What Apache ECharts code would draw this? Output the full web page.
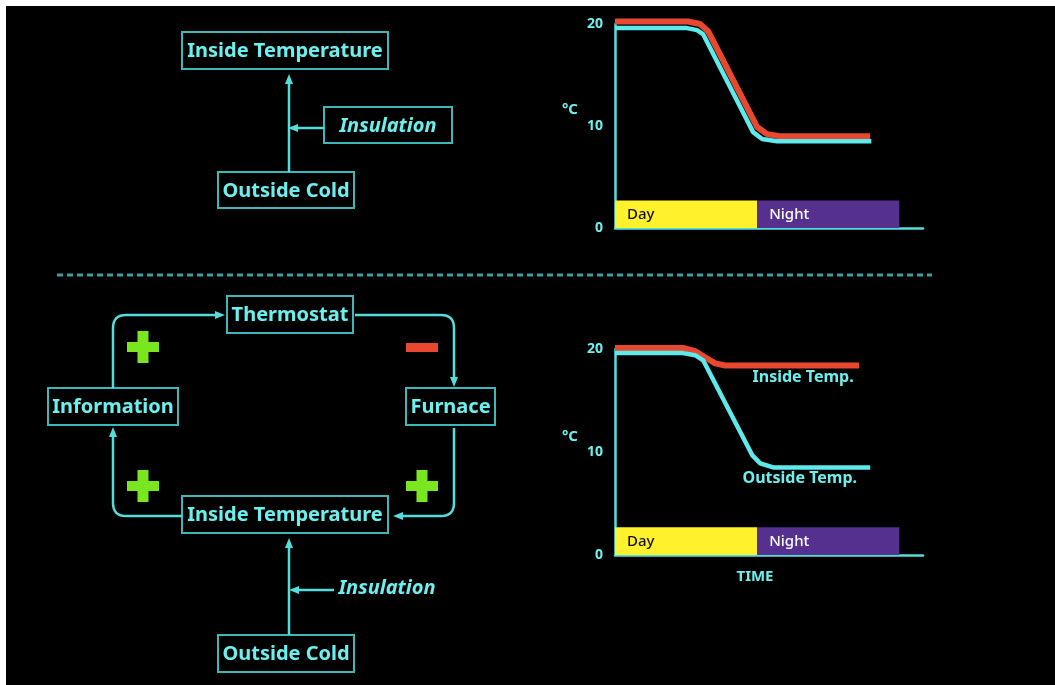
<!DOCTYPE html>
<html>
<head>
<meta charset="utf-8">
<script src="https://cdn.jsdelivr.net/npm/echarts@6/dist/echarts.min.js"></script>
<style>
  html, body { margin: 0; padding: 0; background: #fff; }
  #chart { width: 1055px; height: 685px; }
</style>
</head>
<body>
<div id="chart"></div>
<script>
// time axis (arbitrary units) and temperature ticks
const timeMax = 13
const tempTicks = [0, 10, 20]

// top panel: no heating
const insideNoHeat = [[0, 20.25], [3.08, 20.25], [3.59, 20.0], [3.93, 19.3], [6.0, 9.9], [6.42, 9.2], [6.97, 9.0], [10.77, 9.0]]
const outsideTop = [[0, 19.6], [3.04, 19.6], [3.46, 19.4], [3.72, 19.0], [5.83, 9.4], [6.21, 8.73], [6.84, 8.5], [10.82, 8.5]]

// bottom panel: thermostat on
const insideHeat = [[0, 20.1], [2.87, 20.1], [3.38, 19.8], [3.8, 19.2], [4.23, 18.6], [4.65, 18.4], [10.3, 18.4]]
const outsideBottom = [[0, 19.6], [2.87, 19.6], [3.38, 19.4], [3.72, 18.9], [5.79, 9.7], [6.13, 8.9], [6.68, 8.5], [10.77, 8.5]]

// day / night bands
const periodNames = ['Day', 'Night']
const periodStart = [0, 6]
const periodEnd = [6, 12]
const bandTop = 2.7

const CYAN_TXT = '#6cf0ee'
const CYAN_LINE = '#55dcdc'
const CYAN_BOX = '#3cb8b8'
const RED = '#e8482f'
const GREEN = '#7ae620'
const FONT = '"Noto Sans", "DejaVu Sans", sans-serif'

const chart = echarts.init(document.getElementById('chart'))

function box(x, y, w, h, text, italic) {
    const els = []
    if (w > 0) {
        els.push({
            type: 'rect', shape: { x, y, width: w, height: h },
            style: { fill: 'none', stroke: CYAN_BOX, lineWidth: 2 }
        })
    }
    els.push({
        type: 'text', x: x + w / 2, y: y + h / 2 + 1,
        style: {
            text, fill: CYAN_TXT, fontSize: 20, fontWeight: 'bold', fontFamily: FONT,
            fontStyle: italic ? 'italic' : 'normal',
            textAlign: 'center', textVerticalAlign: 'middle'
        }
    })
    return els
}

// polyline with rounded corners (radius r)
function wire(pts, r) {
    r = r || 13
    const out = [pts[0]]
    for (let i = 1; i < pts.length - 1; i++) {
        const [px, py] = pts[i - 1], [cx, cy] = pts[i], [nx, ny] = pts[i + 1]
        const d1 = Math.hypot(cx - px, cy - py), d2 = Math.hypot(nx - cx, ny - cy)
        const a = [cx - (cx - px) / d1 * r, cy - (cy - py) / d1 * r]
        const b = [cx + (nx - cx) / d2 * r, cy + (ny - cy) / d2 * r]
        for (let k = 0; k <= 8; k++) {
            const t = k / 8
            out.push([
                (1 - t) * (1 - t) * a[0] + 2 * (1 - t) * t * cx + t * t * b[0],
                (1 - t) * (1 - t) * a[1] + 2 * (1 - t) * t * cy + t * t * b[1]
            ])
        }
    }
    out.push(pts[pts.length - 1])
    return { type: 'polyline', shape: { points: out }, style: { fill: null, stroke: CYAN_LINE, lineWidth: 2.5 } }
}

function head(x, y, dir) {
    const L = 10, W = 4
    let pts
    if (dir === 'up') pts = [[x, y], [x - W, y + L], [x + W, y + L]]
    else if (dir === 'down') pts = [[x, y], [x - W, y - L], [x + W, y - L]]
    else if (dir === 'left') pts = [[x, y], [x + L, y - W], [x + L, y + W]]
    else pts = [[x, y], [x - L, y - W], [x - L, y + W]]
    return { type: 'polygon', shape: { points: pts }, style: { fill: CYAN_LINE } }
}

function plus(cx, cy) {
    return [
        { type: 'rect', shape: { x: cx - 16, y: cy - 5, width: 32, height: 10 }, style: { fill: GREEN } },
        { type: 'rect', shape: { x: cx - 5.5, y: cy - 16, width: 11, height: 32 }, style: { fill: GREEN } }
    ]
}

function unitLabel(x, y) {
    return {
        type: 'text', x, y,
        style: { text: '°C', fill: CYAN_TXT, fontSize: 15, fontWeight: 'bold', fontFamily: FONT, textAlign: 'center', textVerticalAlign: 'middle' }
    }
}

const diagram = [].concat(
    // top: open loop
    box(182, 32, 206, 37, 'Inside Temperature'),
    box(324, 107, 128, 36, 'Insulation', true),
    box(218, 172, 136, 36, 'Outside Cold'),
    [wire([[289, 172], [289, 84]]), head(289, 74, 'up'), wire([[324, 128], [298, 128]]), head(288, 128, 'left')],
    // bottom: feedback loop
    box(227, 296, 126, 37, 'Thermostat'),
    box(48, 388, 130, 37, 'Information'),
    box(406, 388, 89, 37, 'Furnace'),
    box(182, 496, 206, 37, 'Inside Temperature'),
    box(218, 635, 136, 37, 'Outside Cold'),
    box(387, 587, 0, 0, 'Insulation', true),
    [
        wire([[113, 388], [113, 315], [215, 315]]), head(225, 315, 'right'),
        wire([[355, 315], [454, 315], [454, 377]]), head(454, 387, 'down'),
        wire([[454, 428], [454, 516], [403, 516]]), head(393, 516, 'left'),
        wire([[182, 516], [113, 516], [113, 437]]), head(113, 427, 'up'),
        wire([[289, 635], [289, 548]]), head(289, 538, 'up'),
        wire([[334, 590], [299, 590]]), head(289, 590, 'left')
    ],
    plus(143, 347), plus(143, 486), plus(422, 486),
    [{ type: 'rect', shape: { x: 406, y: 343, width: 32, height: 9 }, style: { fill: RED } }],
    [{
        type: 'line', shape: { x1: 57, y1: 275, x2: 932, y2: 275 },
        style: { stroke: '#3a9fa0', lineWidth: 3, lineDash: [6, 4] }
    }],
    [unitLabel(570, 110), unitLabel(570, 437)],
    // white page margin
    [
        { type: 'rect', z: 100, shape: { x: 0, y: 0, width: 1055, height: 6 }, style: { fill: '#fff' } },
        { type: 'rect', z: 100, shape: { x: 0, y: 0, width: 6, height: 685 }, style: { fill: '#fff' } }
    ]
)

const axisLine = { show: true, lineStyle: { color: CYAN_LINE, width: 2.5 } }

function xAx(gi, name) {
    return {
        type: 'value', gridIndex: gi, min: 0, max: timeMax,
        axisLine, axisTick: { show: false }, axisLabel: { show: false }, splitLine: { show: false },
        name, nameLocation: 'middle', nameGap: 14,
        nameTextStyle: { color: CYAN_TXT, fontSize: 15, fontWeight: 'bold', fontFamily: FONT, padding: [0, 28, 0, 0] }
    }
}

function yAx(gi) {
    return {
        type: 'value', gridIndex: gi, min: tempTicks[0], max: tempTicks[tempTicks.length - 1], interval: 10,
        axisLine, axisTick: { show: false }, splitLine: { show: false },
        axisLabel: { color: CYAN_TXT, fontSize: 14, fontWeight: 'bold', fontFamily: FONT, margin: 12 }
    }
}

function bands(gi) {
    return {
        type: 'custom', xAxisIndex: gi, yAxisIndex: gi, silent: true,
        data: periodNames.map((n, i) => [periodStart[i], periodEnd[i]]),
        renderItem(params, api) {
            const p0 = api.coord([api.value(0), 0])
            const p1 = api.coord([api.value(1), bandTop])
            const i = params.dataIndex
            return {
                type: 'group', children: [
                    {
                        type: 'rect',
                        shape: { x: p0[0], y: p1[1], width: p1[0] - p0[0], height: p0[1] - p1[1] },
                        style: { fill: i === 0 ? '#fff22c' : '#55308f' }
                    },
                    {
                        type: 'text', x: p0[0] + 12, y: (p0[1] + p1[1]) / 2 + 1,
                        style: {
                            text: periodNames[i], fill: i === 0 ? '#111' : '#fff',
                            fontSize: 15, fontWeight: 500, fontFamily: FONT, textVerticalAlign: 'middle'
                        }
                    }
                ]
            }
        }
    }
}

function curve(gi, data, color, width, label, at) {
    const s = {
        type: 'line', xAxisIndex: gi, yAxisIndex: gi, data, showSymbol: false, clip: false,
        lineStyle: { color, width }, silent: true
    }
    if (label) {
        s.markPoint = {
            symbol: 'circle', symbolSize: 0, silent: true,
            label: { show: true, position: 'inside', formatter: label, color: CYAN_TXT, fontSize: 16, fontWeight: 'bold', fontFamily: FONT },
            data: [{ coord: at }]
        }
    }
    return s
}

chart.setOption({
    backgroundColor: '#000',
    animation: false,
    graphic: { elements: diagram },
    grid: [
        { left: 615, top: 24, width: 308, height: 204 },
        { left: 615, top: 349, width: 308, height: 206 }
    ],
    xAxis: [xAx(0, ''), xAx(1, 'TIME')],
    yAxis: [yAx(0), yAx(1)],
    series: [
        bands(0),
        curve(0, insideNoHeat, RED, 6),
        curve(0, outsideTop, '#5ee9ea', 4.5),
        bands(1),
        curve(1, insideHeat, RED, 6, 'Inside Temp.', [7.94, 17.2]),
        curve(1, outsideBottom, '#5ee9ea', 4.5, 'Outside Temp.', [7.8, 7.4])
    ]
})
</script>
</body>
</html>
